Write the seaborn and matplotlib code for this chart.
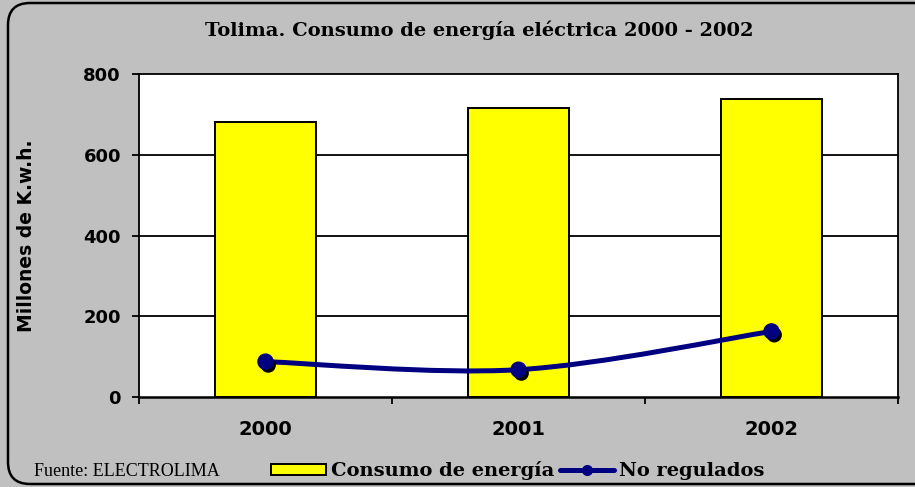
import matplotlib
matplotlib.use("Agg")
import matplotlib.pyplot as plt
import matplotlib.patheffects as pe
from matplotlib.path import Path
from matplotlib.patches import PathPatch, FancyBboxPatch, Patch
from matplotlib.lines import Line2D
from matplotlib.transforms import IdentityTransform
import numpy as np
import pandas as pd
import seaborn as sns

# Data: electricity consumption in Tolima (millions of kWh)
years = ["2000", "2001", "2002"]
consumo = [681, 717, 739]
no_regulados = [87, 67, 162]
y_ticks = [0, 200, 400, 600, 800]

title = "Tolima. Consumo de energía eléctrica 2000 - 2002"
y_label = "Millones de K.w.h."
source = "Fuente: ELECTROLIMA"
label_bar = "Consumo de energía"
label_line = "No regulados"

BG = "#C0C0C0"
YELLOW = "#FFFF00"
NAVY = "#000080"

sns.set_theme(style="white")
plt.rcParams["font.family"] = ["DejaVu Sans"]
plt.rcParams["text.color"] = "black"
plt.rcParams["axes.labelcolor"] = "black"
plt.rcParams["xtick.color"] = "black"
plt.rcParams["ytick.color"] = "black"

W, H = 915, 487
fig = plt.figure(figsize=(W / 100, H / 100), dpi=100, facecolor=BG)
ax = fig.add_axes([139 / W, 1 - 396.7 / H, (898 - 139) / W, (396.7 - 74.3) / H])
ax.set_facecolor("white")

df = pd.DataFrame({"year": years, "consumo": consumo, "no_regulados": no_regulados})

# Horizontal grid behind the bars
for v in y_ticks[1:-1]:
    ax.axhline(v, color="black", lw=1.3, zorder=0)

sns.barplot(data=df, x="year", y="consumo", color=YELLOW, saturation=1,
            edgecolor="black", linewidth=1.4, width=0.4, ax=ax, zorder=2)

# Smoothed line through the "No regulados" points (cubic Bezier segments)
xs = np.arange(len(no_regulados), dtype=float)
ys = np.array(no_regulados, dtype=float)
pts = np.column_stack([xs, ys])
verts = [tuple(pts[0])]
codes = [Path.MOVETO]
n = len(pts)
for i in range(n - 1):
    p_prev = pts[i - 1] if i > 0 else pts[i]
    p_next2 = pts[i + 2] if i + 2 < n else pts[i + 1]
    c1 = pts[i] + (pts[i + 1] - p_prev) / 6.0
    c2 = pts[i + 1] - (p_next2 - pts[i]) / 6.0
    verts += [tuple(c1), tuple(c2), tuple(pts[i + 1])]
    codes += [Path.CURVE4] * 3
curve = PathPatch(Path(verts, codes), facecolor="none", edgecolor=NAVY,
                  lw=3.6, zorder=3, capstyle="round", joinstyle="round")
ax.add_patch(curve)

sns.scatterplot(data=df.assign(pos=xs), x="pos", y="no_regulados", color=NAVY,
                edgecolor=NAVY, s=120, ax=ax, zorder=4, legend=False)
for coll in ax.collections:
    coll.set_path_effects([pe.withSimplePatchShadow(offset=(2, -2.5),
                                                    shadow_rgbFace="black", alpha=1.0)])

ax.set_xlim(-0.5, 2.5)
ax.set_ylim(0, 800)
ax.set_yticks(y_ticks)
ax.set_yticklabels([str(v) for v in y_ticks])
ax.set_xticks(range(len(years)))
ax.set_xticklabels(years)
ax.set_xticks([-0.5, 0.5, 1.5, 2.5], minor=True)
ax.set_xlabel("")
ax.set_ylabel(y_label, fontsize=13.5, fontweight="bold", labelpad=0)
ax.yaxis.set_label_coords((36 - 139) / (898 - 139), 0.5)

for s in ax.spines.values():
    s.set_visible(True)
    s.set_color("black")
    s.set_linewidth(1.3)
ax.spines["bottom"].set_linewidth(1.8)

ax.tick_params(axis="y", which="major", direction="out", length=5, width=1.3,
               color="black", pad=8, labelsize=13, left=True)
ax.tick_params(axis="x", which="major", length=0, pad=17, labelsize=14, bottom=True)
ax.tick_params(axis="x", which="minor", direction="out", length=5, width=1.3,
               color="black", bottom=True)
for lab in ax.get_yticklabels() + ax.get_xticklabels():
    lab.set_fontweight("bold")
    lab.set_color("black")

# Rounded outer frame (pixel coordinates, runs past the right edge)
frame = FancyBboxPatch((8, 3), 940, 481,
                       boxstyle="round,pad=0,rounding_size=22",
                       transform=IdentityTransform(), facecolor="none",
                       edgecolor="black", lw=1.8, zorder=10)
fig.patches.append(frame)

fig.text(479 / W, 1 - 30 / H, title, ha="center", va="center",
         fontsize=14, fontweight="bold", family="DejaVu Serif", color="black")
fig.text(34 / W, 1 - 471 / H, source, ha="left", va="center",
         fontsize=13, family="Liberation Serif", color="black")

handles = [Patch(facecolor=YELLOW, edgecolor="black", linewidth=1.4),
           Line2D([0], [0], color=NAVY, lw=3.6, marker="o", markersize=7)]
leg = fig.legend(handles, [label_bar, label_line], loc="center",
                 bbox_to_anchor=(518 / W, 1 - 471 / H), ncol=2, frameon=False,
                 prop={"family": "DejaVu Serif", "weight": "bold", "size": 14},
                 handlelength=2.8, handletextpad=0.25, columnspacing=0.3,
                 handleheight=0.55)
for t in leg.get_texts():
    t.set_color("black")

fig.savefig("out.png", dpi=100, facecolor=BG)
